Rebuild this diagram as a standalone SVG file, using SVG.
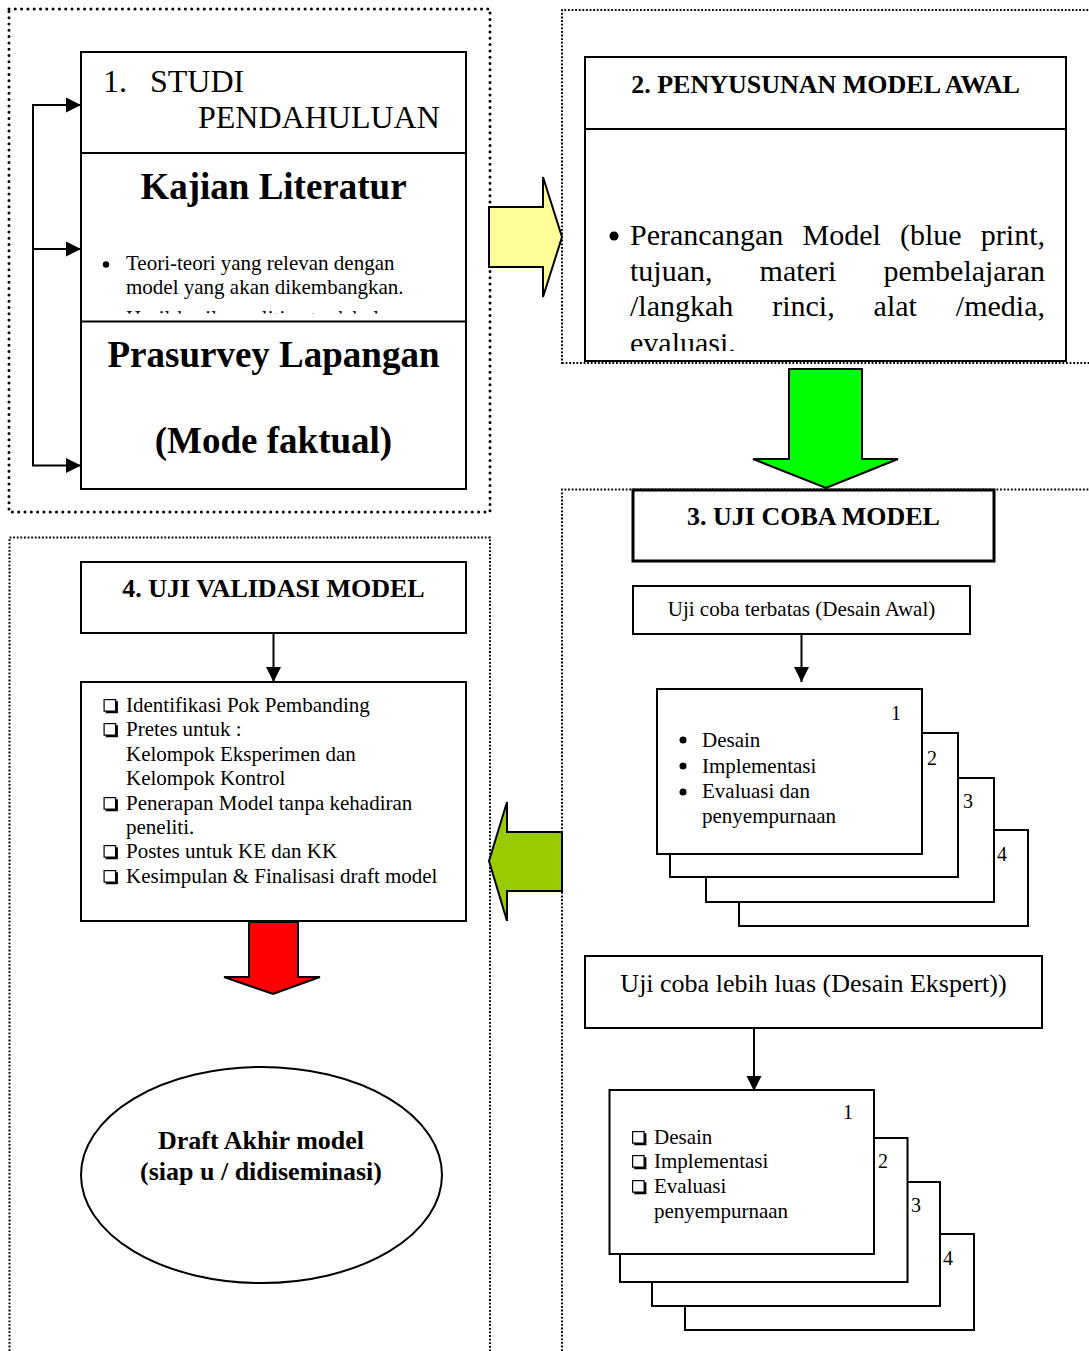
<svg xmlns="http://www.w3.org/2000/svg" width="1089" height="1351" viewBox="0 0 1089 1351">
<style>
text{font-family:"Liberation Serif","Times New Roman",serif;fill:#000}
.b{font-weight:bold}
.box{fill:#fff;stroke:#000;stroke-width:2}
.ln{fill:none;stroke:#000;stroke-width:2}
.frThick{fill:none;stroke:#000;stroke-width:3;stroke-dasharray:0 6.3;stroke-linecap:round}
.frThin{fill:none;stroke:#000;stroke-width:2;stroke-dasharray:1.8 1.8}
.t21{font-size:21px}
.t26{font-size:26px}
</style>
<defs>
<marker id="ah" markerWidth="16" markerHeight="16" refX="15" refY="8" orient="auto" markerUnits="userSpaceOnUse">
<path d="M0,0.5 L15,8 L0,15.5 Z" fill="#000"/>
</marker>
<g id="cb"><rect x="0.6" y="0.6" width="11.5" height="11.5" fill="none" stroke="#000" stroke-width="1.2"/><path d="M2.2 13.1 H13.3 V2.2" fill="none" stroke="#000" stroke-width="2.2"/></g>
<clipPath id="clipLit"><rect x="82" y="154" width="383" height="159.5"/></clipPath>
<clipPath id="clipP2"><rect x="586" y="130" width="479" height="221"/></clipPath>
</defs>

<g id="frames">
<rect class="frThick" x="9" y="9" width="481" height="503"/>
<path class="frThin" d="M562 364 V10 H1089 M562 363 H1089"/>
<path class="frThin" d="M562 1351 V489.5 H1089"/>
<path class="frThin" d="M9.5 1351 V537.5 H490 V1351"/>
</g>

<g id="node1">
<rect class="box" x="81" y="52" width="385" height="437"/>
<line class="ln" x1="81" y1="153" x2="466" y2="153"/>
<line class="ln" x1="81" y1="321.5" x2="466" y2="321.5"/>
<text x="103" y="92" font-size="32">1.</text>
<text x="150" y="92" font-size="32">STUDI</text>
<text x="198" y="128" font-size="32">PENDAHULUAN</text>
<text x="273.5" y="199" font-size="37" class="b" text-anchor="middle">Kajian Literatur</text>
<g clip-path="url(#clipLit)">
<circle cx="106" cy="264.5" r="3.2"/>
<text x="126" y="270" class="t21">Teori-teori yang relevan dengan</text>
<text x="126" y="294" class="t21">model yang akan dikembangkan.</text>
<circle cx="106" cy="319" r="3.2"/>
<text x="126" y="325" class="t21">Hasil-hasil penelitian terdahulu</text>
</g>
<text x="273.5" y="367" font-size="37" class="b" text-anchor="middle">Prasurvey Lapangan</text>
<text x="273.5" y="453" font-size="37" class="b" text-anchor="middle">(Mode faktual)</text>
</g>

<g id="node2">
<rect class="box" x="585" y="57" width="481" height="304"/>
<line class="ln" x1="585" y1="129" x2="1066" y2="129"/>
<text x="825.5" y="93" class="b t26" text-anchor="middle">2. PENYUSUNAN MODEL AWAL</text>
<g clip-path="url(#clipP2)" font-size="30">
<circle cx="614" cy="236" r="4.5"/>
<text x="630" y="245">Perancangan</text>
<text x="802.5" y="245">Model</text>
<text x="900" y="245">(blue</text>
<text x="1045" y="245" text-anchor="end">print,</text>
<text x="630" y="280.5">tujuan,</text>
<text x="759.6" y="280.5">materi</text>
<text x="1045" y="280.5" text-anchor="end">pembelajaran</text>
<text x="630" y="316">/langkah</text>
<text x="772.2" y="316">rinci,</text>
<text x="873.6" y="316">alat</text>
<text x="1045" y="316" text-anchor="end">/media,</text>
<text x="630" y="353">evaluasi.</text>
</g>
</g>

<g id="node3">
<rect x="633" y="490" width="361" height="71" fill="#fff" stroke="#000" stroke-width="3"/>
<text x="813.5" y="525" class="b t26" text-anchor="middle">3. UJI COBA MODEL</text>
</g>

<g id="node3a">
<rect class="box" x="633" y="586" width="337" height="48"/>
<text x="801.5" y="616" class="t21" text-anchor="middle">Uji coba terbatas (Desain Awal)</text>
</g>

<g id="node3b">
<rect class="box" x="739" y="830" width="289" height="96"/>
<text x="997" y="861" font-size="20">4</text>
<rect class="box" x="706" y="778" width="288" height="124"/>
<text x="963" y="808" font-size="20">3</text>
<rect class="box" x="670" y="733" width="288" height="144"/>
<text x="927" y="765" font-size="20">2</text>
<rect class="box" x="657" y="689" width="265" height="165"/>
<text x="891" y="720" font-size="20">1</text>
<circle cx="683" cy="740" r="3.5"/>
<text x="702" y="747" class="t21">Desain</text>
<circle cx="683" cy="766" r="3.5"/>
<text x="702" y="773" class="t21">Implementasi</text>
<circle cx="683" cy="792" r="3.5"/>
<text x="702" y="798" class="t21">Evaluasi dan</text>
<text x="702" y="823" class="t21">penyempurnaan</text>
</g>

<g id="node3c">
<rect class="box" x="585" y="956" width="457" height="72"/>
<text x="813.5" y="992" class="t26" text-anchor="middle">Uji coba lebih luas (Desain Ekspert))</text>
</g>

<g id="node3d">
<rect class="box" x="685" y="1234" width="289" height="96"/>
<text x="943" y="1265" font-size="20">4</text>
<rect class="box" x="652" y="1182" width="288" height="124"/>
<text x="911" y="1212" font-size="20">3</text>
<rect class="box" x="620" y="1138" width="287.5" height="144"/>
<text x="878" y="1168" font-size="20">2</text>
<rect class="box" x="609.5" y="1090" width="264.5" height="164"/>
<text x="843" y="1119" font-size="20">1</text>
<use href="#cb" x="632" y="1131"/>
<text x="654" y="1144" class="t21">Desain</text>
<use href="#cb" x="632" y="1155"/>
<text x="654" y="1168" class="t21">Implementasi</text>
<use href="#cb" x="632" y="1180"/>
<text x="654" y="1193" class="t21">Evaluasi</text>
<text x="654" y="1218" class="t21">penyempurnaan</text>
</g>

<g id="node4">
<rect class="box" x="81" y="562" width="385" height="71"/>
<text x="273.5" y="597" class="b t26" text-anchor="middle">4. UJI VALIDASI MODEL</text>
</g>

<g id="node4a">
<rect class="box" x="81" y="682" width="385" height="239"/>
<use href="#cb" x="103.5" y="699"/>
<text x="126" y="712" class="t21">Identifikasi Pok Pembanding</text>
<use href="#cb" x="103.5" y="723"/>
<text x="126" y="736" class="t21">Pretes untuk :</text>
<text x="126" y="761" class="t21">Kelompok Eksperimen dan</text>
<text x="126" y="785" class="t21">Kelompok Kontrol</text>
<use href="#cb" x="103.5" y="797"/>
<text x="126" y="810" class="t21">Penerapan Model tanpa kehadiran</text>
<text x="126" y="834" class="t21">peneliti.</text>
<use href="#cb" x="103.5" y="845"/>
<text x="126" y="858" class="t21">Postes untuk KE dan KK</text>
<use href="#cb" x="103.5" y="870"/>
<text x="126" y="883" class="t21">Kesimpulan &amp; Finalisasi draft model</text>
</g>

<g id="node5">
<ellipse cx="261.5" cy="1175" rx="180.5" ry="108" fill="#fff" stroke="#000" stroke-width="2"/>
<text x="261" y="1149" class="b t26" text-anchor="middle">Draft Akhir model</text>
<text x="261" y="1180" class="b t26" text-anchor="middle">(siap u / didiseminasi)</text>
</g>

<g id="connectors">
<path class="ln" d="M33 105 V465.5"/>
<line class="ln" x1="32" y1="105" x2="81" y2="105" marker-end="url(#ah)"/>
<line class="ln" x1="33" y1="249" x2="81" y2="249" marker-end="url(#ah)"/>
<line class="ln" x1="32" y1="465.5" x2="81" y2="465.5" marker-end="url(#ah)"/>
<line class="ln" x1="801.5" y1="634" x2="801.5" y2="682" marker-end="url(#ah)"/>
<line class="ln" x1="754" y1="1028" x2="754" y2="1091" marker-end="url(#ah)"/>
<line class="ln" x1="273.5" y1="633" x2="273.5" y2="682" marker-end="url(#ah)"/>
<polygon points="489,207 543,207 543,177 562,237 543,297 543,267 489,267" fill="#FFFF99" stroke="#000" stroke-width="2"/>
<polygon points="789,369 862,369 862,459 898,459 826,488 753,459 789,459" fill="#00FF00" stroke="#000" stroke-width="2"/>
<polygon points="562,832 507,832 507,802 489,861 507,921 507,891 562,891" fill="#99CC00" stroke="#000" stroke-width="2"/>
<polygon points="249,922 298,922 298,977 320,977 273,994 224,977 249,977" fill="#FF0000" stroke="#000" stroke-width="2"/>
</g>
</svg>
